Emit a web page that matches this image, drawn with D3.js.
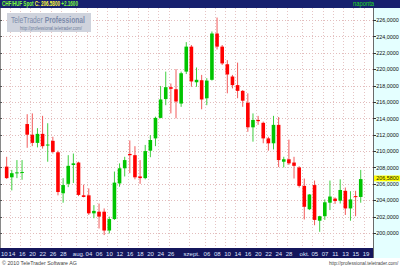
<!DOCTYPE html>
<html lang="hu">
<head>
<meta charset="UTF-8">
<title>CHF/HUF Spot</title>
<script src="https://d3js.org/d3.v7.min.js"></script>
<style>
    body { margin: 0; background: #fff; }
    svg { display: block; font-family: "Liberation Sans", Arial, sans-serif; }
</style>
</head>
<body>
<svg id="chart"></svg>
<script>
// trading days shown (2010)
const dates = [
    "07-14","07-15","07-16","07-19","07-20","07-21","07-22","07-23","07-26","07-27","07-28","07-29","07-30",
    "08-02","08-03","08-04","08-05","08-06","08-09","08-10","08-11","08-12","08-13","08-16","08-17","08-18",
    "08-19","08-20","08-23","08-24","08-25","08-26","08-27","08-30","08-31",
    "09-01","09-02","09-03","09-06","09-07","09-08","09-09","09-10","09-13","09-14","09-15","09-16","09-17",
    "09-20","09-21","09-22","09-23","09-24","09-27","09-28","09-29","09-30",
    "10-01","10-04","10-05","10-06","10-07","10-08","10-11","10-12","10-13","10-14","10-15","10-18","10-19"
];
const open = [
    208.1,206.8,207.3,207.35,213.3,212.0,211.0,212.1,210.7,211.25,209.85,204.85,206.0,
    208.3,208.6,204.6,204.6,202.4,202.6,202.6,200.3,201.7,206.05,207.9,209.65,209.5,
    206.9,206.7,210.05,211.55,214.05,216.35,217.8,217.55,215.8,
    219.7,222.75,218.4,218.65,216.45,218.7,224.35,222.75,220.6,219.1,218.05,217.35,215.9,
    212.9,213.8,213.45,211.55,210.95,213.2,208.7,209.0,208.6,
    208.0,205.75,202.9,205.85,201.5,202.05,203.7,204.2,203.95,205.15,203.0,204.5,204.4
];
const high = [
    209.3,207.7,208.9,208.9,214.5,214.6,212.8,214.3,213.4,211.75,210.05,206.7,209.5,
    209.7,208.7,205.9,205.45,203.4,203.6,203.0,202.0,207.5,208.5,209.3,211.3,210.6,
    208.9,210.75,211.95,214.2,217.95,219.7,218.25,220.0,219.7,
    223.3,222.95,220.2,219.3,218.9,224.6,226.3,222.95,221.1,219.3,220.8,217.45,217.05,
    214.6,214.3,213.6,211.75,214.3,214.15,209.3,211.4,209.3,
    208.15,206.65,204.75,206.4,202.1,204.1,206.4,204.35,206.55,205.55,205.1,205.15,207.7
];
const low = [
    206.6,205.2,206.7,206.5,210.4,210.6,210.45,210.3,208.7,209.7,204.6,203.7,205.6,
    206.1,204.5,204.35,202.2,201.8,200.55,199.75,199.95,201.6,205.65,206.9,207.3,206.55,
    206.0,206.55,209.25,210.6,214.0,215.6,214.6,214.0,215.4,
    219.4,217.85,217.85,215.1,215.6,218.6,222.4,220.5,217.05,217.65,216.45,215.4,212.35,
    211.15,213.2,210.95,210.05,210.2,208.05,208.0,208.3,206.65,
    205.55,201.65,202.8,200.95,200.15,201.6,202.8,203.55,203.6,202.2,201.5,202.05,203.7
];
const close = [
    206.7,207.3,207.4,207.45,212.0,211.0,212.1,210.6,210.8,209.9,205.0,205.85,208.2,
    208.5,204.65,204.4,202.4,202.7,202.0,200.3,201.7,206.15,207.9,208.9,209.5,206.8,
    206.7,210.0,211.35,214.05,216.3,217.8,217.6,216.05,219.5,
    222.75,218.5,218.7,216.3,218.6,224.35,222.75,220.7,219.35,218.05,217.35,216.15,212.9,
    213.8,213.65,211.55,210.95,213.2,208.9,209.0,208.5,208.2,
    205.75,203.2,204.7,201.6,202.05,203.75,204.45,203.9,205.25,203.0,204.1,204.42,206.58
];

// x-axis tick labels
const tickDates = ["07-14","07-16","07-20","07-22","07-26","07-28","08-02","08-04","08-06","08-10","08-12",
    "08-16","08-18","08-20","08-24","08-26","09-01","09-06","09-08","09-10","09-14","09-16","09-20",
    "09-22","09-24","09-28","10-01","10-05","10-07","10-11","10-13","10-15","10-19"];
const tickText = ["14","16","20","22","26","28","aug.","04","06","10","12",
    "16","18","20","24","26","szept.","06","08","10","14","16","20",
    "22","24","28","okt.","05","07","11","13","15","19"];
const yTicks = [200,202,204,206,208,210,212,214,216,218,220,222,224,226];
const lastPrice = 206.58;
const change = 2.16;

const W = 400, H = 266;
const plot = { left: 0, right: 373, top: 8, bottom: 248 };

const svg = d3.select('#chart').attr('width', W).attr('height', H);

const x = d3.scaleBand().domain(dates).range([4.1, 363.3]).padding(0);
const y = d3.scaleLinear().domain([200, 226]).range([233, 20]);
const cx = d => x(d) + x.bandwidth() / 2;

const fmt = v => d3.format('.4f')(v).replace('.', ',');

// squeeze a text horizontally so it spans `width` px, anchored at (tx, ty)
function fit(text, tx, ty, width) {
    const len = text.node().getComputedTextLength();
    text.attr('transform', `translate(${tx},${ty}) scale(${Math.min(1, width / len)},1)`);
    return text;
}

// backgrounds
svg.append('rect').attr('width', W).attr('height', H).attr('fill', '#fff');
svg.append('rect')
    .attr('x', plot.right).attr('y', plot.top)
    .attr('width', W - plot.right).attr('height', 258 - plot.top)
    .attr('fill', '#e4ffff');

svg.append('clipPath').attr('id', 'pc').append('rect')
    .attr('x', plot.left).attr('y', plot.top)
    .attr('width', plot.right - plot.left).attr('height', plot.bottom - plot.top);

const g = svg.append('g').attr('clip-path', 'url(#pc)');

// grid
g.selectAll('.hgrid').data(yTicks).enter().append('line')
    .attr('x1', plot.left).attr('x2', plot.right)
    .attr('y1', d => Math.round(y(d)) + 0.5).attr('y2', d => Math.round(y(d)) + 0.5)
    .attr('stroke', '#e2bcbc').attr('stroke-dasharray', '1,2');

g.selectAll('.vgrid').data(tickDates).enter().append('line')
    .attr('x1', d => Math.round(cx(d) + 3) + 0.5).attr('x2', d => Math.round(cx(d) + 3) + 0.5)
    .attr('y1', plot.top).attr('y2', plot.bottom)
    .attr('stroke', '#e6c4c4').attr('stroke-dasharray', '1,2');

// watermark
svg.append('rect').attr('x', 7).attr('y', 13).attr('width', 84).attr('height', 19).attr('fill', '#cfd3dd');
const wm = svg.append('text').attr('font-size', 8.6).attr('fill', '#7c8bab');
wm.append('tspan').text('TeleTrader ');
wm.append('tspan').attr('font-weight', 'bold').text('Professional');
fit(wm, 11, 23, 74);
fit(svg.append('text').attr('font-size', 4.6).attr('fill', '#6c7b9a')
    .text('http://professional.teletrader.com/'), 20, 29.5, 62);

// candles
const idx = d3.range(dates.length);
const up = i => close[i] >= open[i];

g.selectAll('.wick').data(idx).enter().append('line')
    .attr('x1', i => cx(dates[i])).attr('x2', i => cx(dates[i]))
    .attr('y1', i => y(high[i])).attr('y2', i => y(low[i]))
    .attr('stroke', i => up(i) ? '#3fcf3f' : '#f25a5a')
    .attr('stroke-width', 1);

g.selectAll('.body').data(idx).enter().append('rect')
    .attr('x', i => cx(dates[i]) - 1.8)
    .attr('width', 3.6)
    .attr('y', i => y(Math.max(open[i], close[i])))
    .attr('height', i => Math.max(1, Math.abs(y(open[i]) - y(close[i]))))
    .attr('fill', i => up(i) ? '#00c400' : '#ff0000');

// plot frame
svg.append('line').attr('x1', 0.5).attr('x2', 0.5).attr('y1', plot.top).attr('y2', plot.bottom)
    .attr('stroke', '#8a8a8a');
svg.selectAll('.lt').data(yTicks).enter().append('line')
    .attr('x1', 0).attr('x2', 2)
    .attr('y1', d => Math.round(y(d)) + 0.5).attr('y2', d => Math.round(y(d)) + 0.5)
    .attr('stroke', '#555');

// right axis
svg.append('line').attr('x1', plot.right + 0.5).attr('x2', plot.right + 0.5)
    .attr('y1', plot.top).attr('y2', 258).attr('stroke', '#6a6a6a');
svg.selectAll('.rt').data(yTicks).enter().append('line')
    .attr('x1', plot.right).attr('x2', plot.right + 3)
    .attr('y1', d => Math.round(y(d)) + 0.5).attr('y2', d => Math.round(y(d)) + 0.5)
    .attr('stroke', '#333');
svg.selectAll('.ylab').data(yTicks).enter().append('text')
    .attr('font-size', 6.2).attr('fill', '#111')
    .text(d => fmt(d))
    .each(function(d) { fit(d3.select(this), plot.right + 3.2, y(d) + 2.2, 22.5); });

// last price tag
svg.append('rect').attr('x', plot.right + 1).attr('y', y(lastPrice) - 3.6)
    .attr('width', W - plot.right - 1).attr('height', 5.8).attr('fill', '#ffff00');
fit(svg.append('text').attr('font-size', 5.6).attr('fill', '#111').text(fmt(lastPrice)),
    plot.right + 3.2, y(lastPrice) + 1.2, 22.5);

// x-axis bar
svg.append('rect').attr('x', 0).attr('y', plot.bottom).attr('width', plot.right).attr('height', 10)
    .attr('fill', '#14165c');
svg.append('text').attr('x', 1).attr('y', 255.6).attr('font-size', 6).attr('fill', '#dfe4ff').text('10');
svg.selectAll('.xlab').data(tickDates).enter().append('text')
    .attr('x', d => cx(d) + 5.3).attr('y', 255.6)
    .attr('text-anchor', 'middle').attr('font-size', 6).attr('fill', '#dfe4ff')
    .text((d, i) => tickText[i]);

// header
svg.append('rect').attr('width', W).attr('height', plot.top).attr('fill', '#17206e');
const title = svg.append('text').attr('font-size', 6.6).attr('font-weight', 'bold');
title.append('tspan').attr('fill', '#7cff3a').text('CHF/HUF Spot ');
title.append('tspan').attr('fill', '#ffff3a').text('C: ' + lastPrice.toFixed(4) + ' ');
title.append('tspan').attr('fill', '#7cff3a').text('+' + change.toFixed(4));
fit(title, 2, 6.2, 76);
fit(svg.append('text').attr('font-size', 6.4).attr('fill', '#22dd22').text('naponta'), 353, 6.2, 21);

// footer
fit(svg.append('text').attr('font-size', 6).attr('fill', '#444')
    .text('\u00a9 2010 TeleTrader Software AG'), 2, 264.6, 75);
fit(svg.append('text').attr('font-size', 6).attr('fill', '#444')
    .text('http://professional.teletrader.com/'), 329, 264.6, 69.5);
</script>
</body>
</html>
